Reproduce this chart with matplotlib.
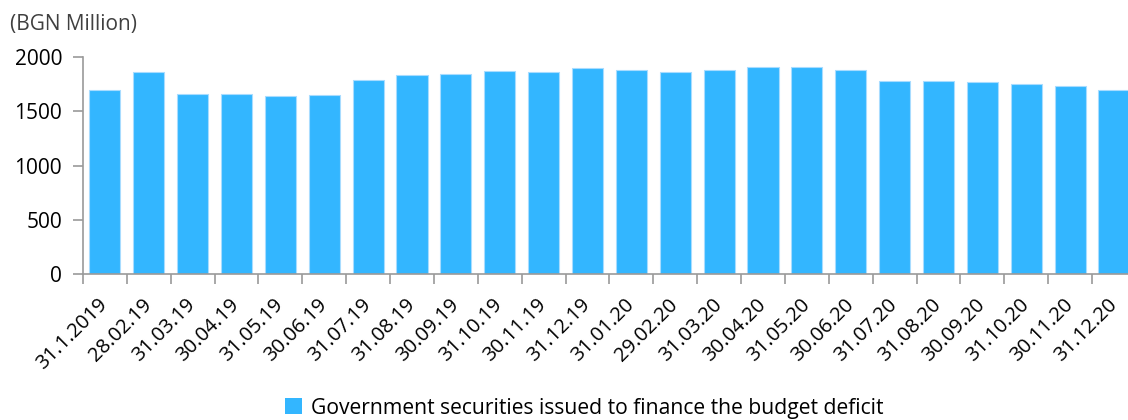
import matplotlib
matplotlib.use("Agg")
import matplotlib.pyplot as plt
import numpy as np
from matplotlib.patches import Patch

plt.rcParams['font.family'] = ['Open Sans', 'DejaVu Sans']

# месечни данни, млн. лв.
dates = ["31.1.2019", "28.02.19", "31.03.19", "30.04.19", "31.05.19", "30.06.19",
         "31.07.19", "31.08.19", "30.09.19", "31.10.19", "30.11.19", "31.12.19",
         "31.01.20", "29.02.20", "31.03.20", "30.04.20", "31.05.20", "30.06.20",
         "31.07.20", "31.08.20", "30.09.20", "31.10.20", "30.11.20", "31.12.20"]
securities = [1696, 1862, 1660, 1660, 1638, 1650, 1789, 1837, 1844, 1872, 1865, 1896,
              1881, 1862, 1881, 1905, 1905, 1881, 1776, 1776, 1770, 1752, 1733, 1699]
yticks = [0, 500, 1000, 1500, 2000]

bar_color = "#33B6FF"
axis_gray = "#9A9A9A"

fig = plt.figure(figsize=(11.28, 4.2), dpi=100)
ax = fig.add_axes([0.0735, 0.347, 0.9335, 0.517])

x = np.arange(len(dates))
ax.bar(x, securities, width=0.71, color=bar_color, edgecolor="#A8DCFF", linewidth=0.8)

ax.set_xlim(-0.5, len(dates) - 0.5)
ax.set_ylim(0, 2000)
ax.set_yticks(yticks)
ax.tick_params(axis="y", length=7, width=1.2, color=axis_gray, labelsize=15, pad=8)

ax.set_xticks(x)
ax.set_xticklabels(dates, rotation=45, ha="right", va="center", rotation_mode="anchor")
ax.set_xticks(np.arange(len(dates) + 1) - 0.5, minor=True)
ax.tick_params(axis="x", which="major", length=0, labelsize=14.5, pad=20)
ax.tick_params(axis="x", which="minor", length=7, width=1.2, color=axis_gray)

for side in ("top", "right"):
    ax.spines[side].set_visible(False)
for side in ("left", "bottom"):
    ax.spines[side].set_color(axis_gray)
    ax.spines[side].set_linewidth(1.2)

fig.text(0.009, 0.942, "(BGN Million)", fontsize=15, color="#404040", va="center")

handle = Patch(facecolor=bar_color, edgecolor="none")
fig.legend([handle], ["Government securities issued to finance the budget deficit"],
           loc="center", bbox_to_anchor=(0.518, 0.028), frameon=False, fontsize=15.2,
           handlelength=0.8, handleheight=0.8, handletextpad=0.4)

fig.savefig("out.png", dpi=100)
